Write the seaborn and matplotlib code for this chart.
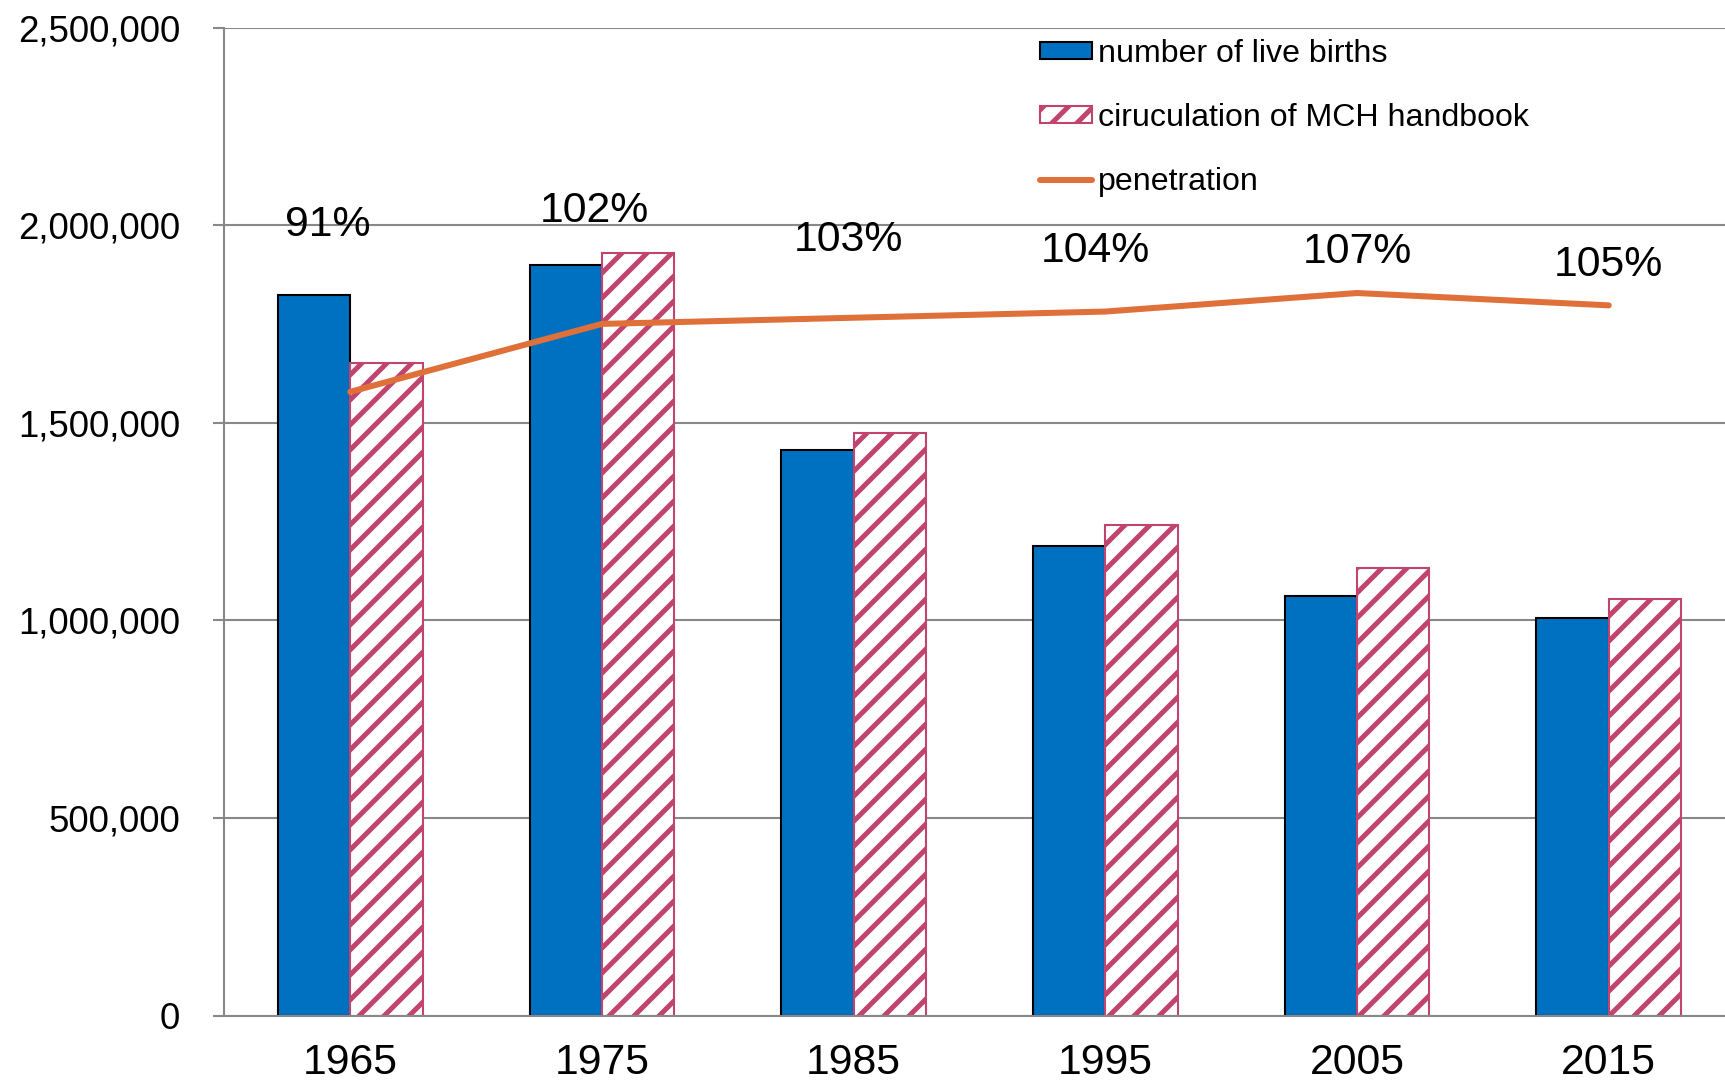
import numpy as np
import pandas as pd
import matplotlib
matplotlib.use('Agg')
import matplotlib.pyplot as plt
import matplotlib.patches as mpatches
from matplotlib.lines import Line2D
from matplotlib.ticker import FuncFormatter
import seaborn as sns

# ---------------- data ----------------
years = ['1965', '1975', '1985', '1995', '2005', '2015']
live_births = [1823000, 1900000, 1432000, 1187000, 1062000, 1006000]
handbook = [1652000, 1930000, 1474000, 1240000, 1132000, 1054000]
penetration = [0.91, 1.02, 1.03, 1.04, 1.07, 1.05]
pct_labels = ['91%', '102%', '103%', '104%', '107%', '105%']
series_names = ['number of live births', 'ciruculation of MCH handbook', 'penetration']
y_ticks = [0, 500000, 1000000, 1500000, 2000000, 2500000]

# ---------------- layout / style ----------------
label_dx = [-0.09, -0.03, -0.02, -0.04, 0.0, 0.0]
label_y = [2.0e6, 2.035e6, 1.963e6, 1.935e6, 1.932e6, 1.899e6]
BLUE = '#0070C0'
PINK = '#C0446E'
ORANGE = '#E0703A'
GRID = '#888888'

sns.set_style('white')
plt.rcParams['font.family'] = ['Liberation Sans', 'DejaVu Sans']
plt.rcParams['text.color'] = 'black'
plt.rcParams['hatch.linewidth'] = 2.4

fig = plt.figure(figsize=(1725 / 150, 1085 / 150), dpi=150)
ax = fig.add_axes([224.4 / 1725, 69.5 / 1085, 1510.2 / 1725, 988.0 / 1085])

df = pd.DataFrame({
    'year': years * 2,
    'value': live_births + handbook,
    'series': [series_names[0]] * len(years) + [series_names[1]] * len(years),
})

sns.barplot(data=df, x='year', y='value', hue='series',
            palette=[BLUE, 'white'], saturation=1, width=0.575,
            legend=False, ax=ax)

for p in ax.containers[0]:
    p.set_facecolor(BLUE)
    p.set_edgecolor('black')
    p.set_linewidth(1.0)
for p in ax.containers[1]:
    p.set_facecolor('white')
    p.set_edgecolor(PINK)
    p.set_hatch('//')
    p.set_linewidth(1.0)

ax.set_ylim(0, 2500000)
ax.set_xlim(-0.5, 5.5)
ax.set_yticks(y_ticks)
ax.yaxis.set_major_formatter(FuncFormatter(lambda v, _: f'{v:,.0f}'))
ax.set_xlabel('')
ax.set_ylabel('')
ax.grid(axis='y', color=GRID, linewidth=1.0)
ax.set_axisbelow(True)

for s in ['top', 'right']:
    ax.spines[s].set_visible(False)
for s in ['left', 'bottom']:
    ax.spines[s].set_color(GRID)
    ax.spines[s].set_linewidth(1.0)

ax.set_xticks(range(len(years)))
ax.set_xticklabels(years)
ax.set_xticks(np.arange(-0.5, len(years), 1.0), minor=True)
ax.tick_params(axis='x', which='major', length=0, pad=13.3, labelsize=20.5, labelcolor='black')
ax.tick_params(axis='x', which='minor', length=6, width=1.0, color=GRID, direction='out')
ax.tick_params(axis='y', which='major', length=5.3, width=1.0, color=GRID, direction='out',
               pad=16, labelsize=17.6, labelcolor='black', left=True)

for i, lab in enumerate(pct_labels):
    ax.text(i + label_dx[i], label_y[i], lab, ha='center', va='center',
            fontsize=20.5, color='black')

ax2 = ax.twinx()
sns.lineplot(x=np.arange(len(years)), y=penetration, ax=ax2, color=ORANGE,
             linewidth=2.9, solid_capstyle='round')
ax2.set_ylim(-0.1, 1.5)
ax2.set_xlim(-0.5, 5.5)
ax2.axis('off')

handles = [
    mpatches.Patch(facecolor=BLUE, edgecolor='black', linewidth=1.0),
    mpatches.Patch(facecolor='white', edgecolor=PINK, hatch='//', linewidth=1.0),
    Line2D([0], [0], color=ORANGE, linewidth=2.9, solid_capstyle='round'),
]
fig.legend(handles, series_names, loc='upper left',
           bbox_to_anchor=(1040 / 1725, 1 - 38.6 / 1085), frameon=False,
           fontsize=15.4, handlelength=1.62, handletextpad=0.18,
           labelspacing=1.07, borderpad=0, borderaxespad=0, handleheight=0.45)

fig.savefig('out.png', dpi=150)
